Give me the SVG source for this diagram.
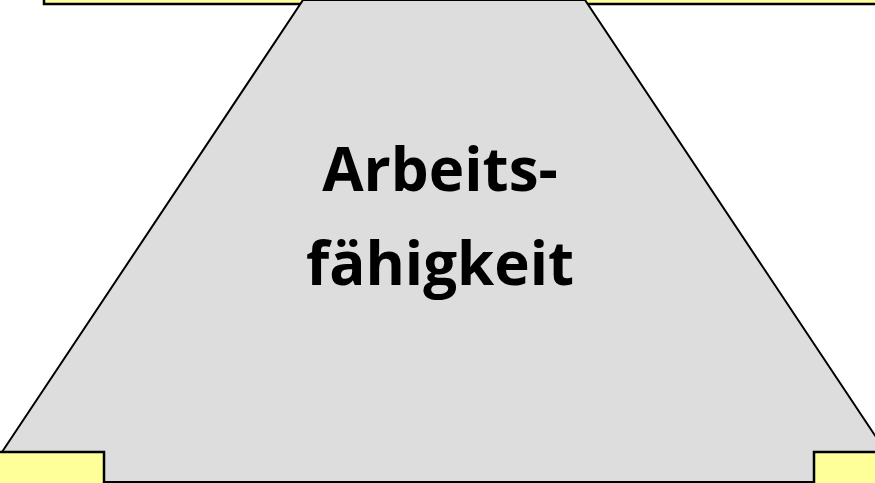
<svg xmlns="http://www.w3.org/2000/svg" width="875" height="483" viewBox="0 0 875 483">
<style>
.box{fill:#FFFF99;stroke:#000;stroke-width:2.5}
.lbl{font-family:"Open Sans","Noto Sans",sans-serif;font-weight:bold;font-size:60px;fill:#000;text-anchor:middle}
</style>
<rect width="875" height="483" fill="#fff"/>
<g id="top-box"><rect class="box" x="44" y="-20" width="850" height="24"/></g>
<g id="arbeitsfaehigkeit">
<polygon points="303,0 585,0 888,455 888,482 -13,482 0,455" fill="#DDDDDD" stroke="#000" stroke-width="2"/>
<text class="lbl" x="440" y="191">Arbeits-</text>
<text class="lbl" x="440" y="285">fähigkeit</text>
</g>
<g id="bottom-left-box"><rect class="box" x="-20" y="452" width="124" height="50"/></g>
<g id="bottom-right-box"><rect class="box" x="814" y="452" width="80" height="50"/></g>
<g id="connectors"/>
</svg>
